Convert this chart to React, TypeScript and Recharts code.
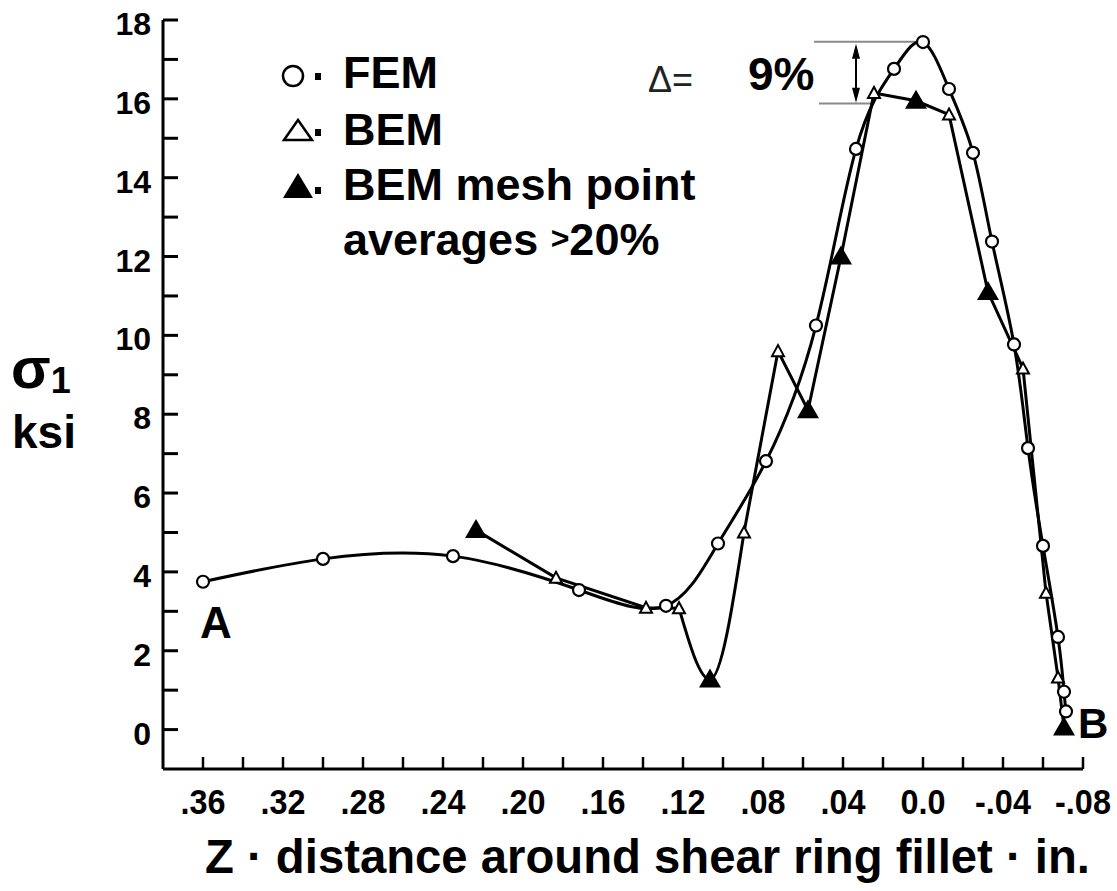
import {
  ComposedChart,
  Line,
  Scatter,
  XAxis,
  YAxis,
  ReferenceLine,
} from "recharts";

// FEM (open circles), z in inches, sigma1 in ksi
const femZ = [0.36, 0.3, 0.235, 0.172, 0.1285, 0.1025, 0.0785, 0.0535, 0.0335, 0.0145, 0.0, -0.013, -0.025, -0.0345, -0.0455, -0.0525, -0.06, -0.0675, -0.0705, -0.0715];
const femV = [3.75, 4.33, 4.4, 3.54, 3.14, 4.72, 6.81, 10.25, 14.73, 16.76, 17.44, 16.25, 14.63, 12.38, 9.77, 7.14, 4.66, 2.35, 0.96, 0.46];

// BEM (open triangles)
const bemZ = [0.1835, 0.1385, 0.122, 0.0895, 0.0725, 0.0245, -0.013, -0.05, -0.0615, -0.0675];
const bemV = [3.85, 3.09, 3.08, 5.0, 9.6, 16.15, 15.6, 9.16, 3.47, 1.32];

// BEM mesh point averages > 20% (filled triangles), also on the BEM line
const meshZ = [0.2235, 0.1065, 0.0575, 0.041, 0.0035, -0.0325, -0.0705];
const meshV = [5.06, 1.27, 8.1, 12.0, 15.95, 11.1, 0.05];

const xTicks = [0.36, 0.34, 0.32, 0.3, 0.28, 0.26, 0.24, 0.22, 0.2, 0.18, 0.16, 0.14, 0.12, 0.1, 0.08, 0.06, 0.04, 0.02, 0.0, -0.02, -0.04, -0.06, -0.08];
const xLabelValues = [0.36, 0.32, 0.28, 0.24, 0.2, 0.16, 0.12, 0.08, 0.04, 0.0, -0.04, -0.08];
const xLabels = [".36", ".32", ".28", ".24", ".20", ".16", ".12", ".08", ".04", "0.0", "-.04", "-.08"];

const yTicks = [0, 1, 2, 3, 4, 5, 6, 7, 8, 9, 10, 11, 12, 13, 14, 15, 16, 17, 18];
const yLabelValues = [0, 2, 4, 6, 8, 10, 12, 14, 16, 18];

const FONT = "'Liberation Sans', Arial, Helvetica, sans-serif";

const femData = femZ.map((z, i) => ({ z, v: femV[i] }));
const bemPts = bemZ.map((z, i) => ({ z, v: bemV[i] }));
const meshPts = meshZ.map((z, i) => ({ z, v: meshV[i] }));
const bemAll = [...bemPts, ...meshPts].sort((a, b) => b.z - a.z);
// the dip around z = .11 is drawn as a smooth curve, the rest straight
const dipStart = bemAll.findIndex((p) => p.z === 0.122);
const bemLeft = bemAll.slice(0, dipStart + 1);
const bemDip = bemAll.slice(dipStart, dipStart + 3);
const bemRight = bemAll.slice(dipStart + 2);

function XTick(props: any) {
  const { x, y, payload } = props;
  const idx = xLabelValues.findIndex((v) => Math.abs(v - payload.value) < 1e-6);
  return (
    <g>
      <line x1={x} x2={x} y1={y} y2={y - 12} stroke="#000" strokeWidth={2.5} />
      {idx >= 0 && (
        <text
          x={x}
          y={y + 45}
          textAnchor="middle"
          fontSize={36}
          fontWeight={700}
          fontFamily={FONT}
          fill="#000"
          transform={`translate(${x} ${y + 45}) scale(0.9 1) translate(${-x} ${-(y + 45)})`}
        >
          {xLabels[idx]}
        </text>
      )}
    </g>
  );
}

function YTick(props: any) {
  const { x, y, payload } = props;
  const labeled = yLabelValues.includes(payload.value);
  return (
    <g>
      <line x1={x} x2={x + 15} y1={y} y2={y} stroke="#000" strokeWidth={3} />
      {labeled && (
        <text x={x - 12} y={y + 15} textAnchor="end" fontSize={32} fontWeight={700} fontFamily={FONT} fill="#000">
          {payload.value}
        </text>
      )}
    </g>
  );
}

const HollowTri = (p: any) => (
  <polygon
    points={`${p.cx - 6},${p.cy + 5} ${p.cx},${p.cy - 6} ${p.cx + 6},${p.cy + 5}`}
    fill="#fff"
    stroke="#000"
    strokeWidth={2}
  />
);

const FilledTri = (p: any) => (
  <polygon points={`${p.cx - 11},${p.cy + 8} ${p.cx},${p.cy - 11} ${p.cx + 11},${p.cy + 8}`} fill="#000" />
);

const DoubleArrow = (p: any) => {
  const x = p.x1;
  const top = Math.min(p.y1, p.y2);
  const bot = Math.max(p.y1, p.y2);
  return (
    <g>
      <line x1={x} x2={x} y1={top + 6} y2={bot - 6} stroke="#000" strokeWidth={2} />
      <polygon points={`${x - 4},${top + 15} ${x},${top} ${x + 4},${top + 15}`} fill="#000" />
      <polygon points={`${x - 4},${bot - 15} ${x},${bot} ${x + 4},${bot - 15}`} fill="#000" />
    </g>
  );
};

export default function App() {
  return (
    <div style={{ position: "absolute", left: 0, top: 0, width: 1117, height: 891, background: "#fff", overflow: "hidden" }}>
      <ComposedChart
        width={1117}
        height={891}
        margin={{ top: 20, right: 34, bottom: 62, left: 103 }}
        style={{ position: "absolute", left: 0, top: 0 }}
      >
        <XAxis
          type="number"
          dataKey="z"
          domain={[-0.08, 0.38]}
          reversed
          allowDataOverflow
          ticks={xTicks}
          interval={0}
          height={60}
          tickSize={0}
          tickMargin={0}
          tickLine={false}
          axisLine={{ stroke: "#000", strokeWidth: 3 }}
          tick={<XTick />}
        />
        <YAxis
          type="number"
          dataKey="v"
          domain={[-1, 18]}
          allowDataOverflow
          ticks={yTicks}
          interval={0}
          width={60}
          tickSize={0}
          tickMargin={0}
          tickLine={false}
          axisLine={{ stroke: "#000", strokeWidth: 3 }}
          tick={<YTick />}
        />
        <ReferenceLine segment={[{ x: 0.0545, y: 17.45 }, { x: 0.0, y: 17.45 }]} stroke="#8a8a8a" strokeWidth={2} />
        <ReferenceLine segment={[{ x: 0.052, y: 15.88 }, { x: 0.025, y: 15.88 }]} stroke="#8a8a8a" strokeWidth={2} />
        <ReferenceLine segment={[{ x: 0.0335, y: 17.4 }, { x: 0.0335, y: 15.9 }]} stroke="#000" shape={DoubleArrow} />
        <Line data={bemLeft} dataKey="v" type="linear" stroke="#000" strokeWidth={3} dot={false} activeDot={false} isAnimationActive={false} />
        <Line data={bemDip} dataKey="v" type="monotoneX" stroke="#000" strokeWidth={3} dot={false} activeDot={false} isAnimationActive={false} />
        <Line data={bemRight} dataKey="v" type="linear" stroke="#000" strokeWidth={3} dot={false} activeDot={false} isAnimationActive={false} />
        <Line
          data={femData}
          dataKey="v"
          type="natural"
          stroke="#000"
          strokeWidth={3}
          dot={{ r: 6, fill: "#fff", stroke: "#000", strokeWidth: 2.2 }}
          activeDot={false}
          isAnimationActive={false}
        />
        <Scatter data={bemPts} dataKey="v" shape={HollowTri} isAnimationActive={false} />
        <Scatter data={meshPts} dataKey="v" shape={FilledTri} isAnimationActive={false} />
      </ComposedChart>

      <svg width={1117} height={891} style={{ position: "absolute", left: 0, top: 0, pointerEvents: "none" }} fontFamily={FONT}>
        {/* legend */}
        <circle cx={293} cy={76} r={10} fill="#fff" stroke="#000" strokeWidth={2.5} />
        <rect x={315} y={73} width={6} height={7} fill="#000" />
        <text x={343} y={88} fontSize={45} fontWeight={700}>FEM</text>

        <polygon points="284,140 298,120 312,140" fill="#fff" stroke="#000" strokeWidth={2.5} />
        <rect x={315} y={129} width={6} height={7} fill="#000" />
        <text x={343} y={145} fontSize={45} fontWeight={700}>BEM</text>

        <polygon points="283,198 298,173 313,198" fill="#000" />
        <rect x={315} y={187} width={6} height={7} fill="#000" />
        <text x={343} y={200} fontSize={45} fontWeight={700}>BEM mesh point</text>
        <text x={343} y={255} fontSize={45} fontWeight={700}>
          averages <tspan fontSize={32} dy={-6}>&gt;</tspan><tspan dy={6}>20%</tspan>
        </text>

        {/* delta annotation */}
        <text x={648} y={92} fontSize={36} fill="#222">Δ=</text>
        <text x={748} y={90} fontSize={46} fontWeight={700}>9%</text>

        {/* end labels */}
        <text x={200} y={638} fontSize={44} fontWeight={700}>A</text>
        <text x={1078} y={738} fontSize={42} fontWeight={700}>B</text>

        {/* y axis label */}
        <text x={11} y={388} fontSize={58} fontWeight={700}>
          σ<tspan fontSize={36} dy={5}>1</tspan>
        </text>
        <text x={12} y={448} fontSize={46} fontWeight={700}>ksi</text>

        {/* x axis title */}
        <text x={205} y={873} fontSize={48} fontWeight={700} textLength={885} lengthAdjust="spacingAndGlyphs">
          Z · distance around shear ring fillet · in.
        </text>
      </svg>
    </div>
  );
}
